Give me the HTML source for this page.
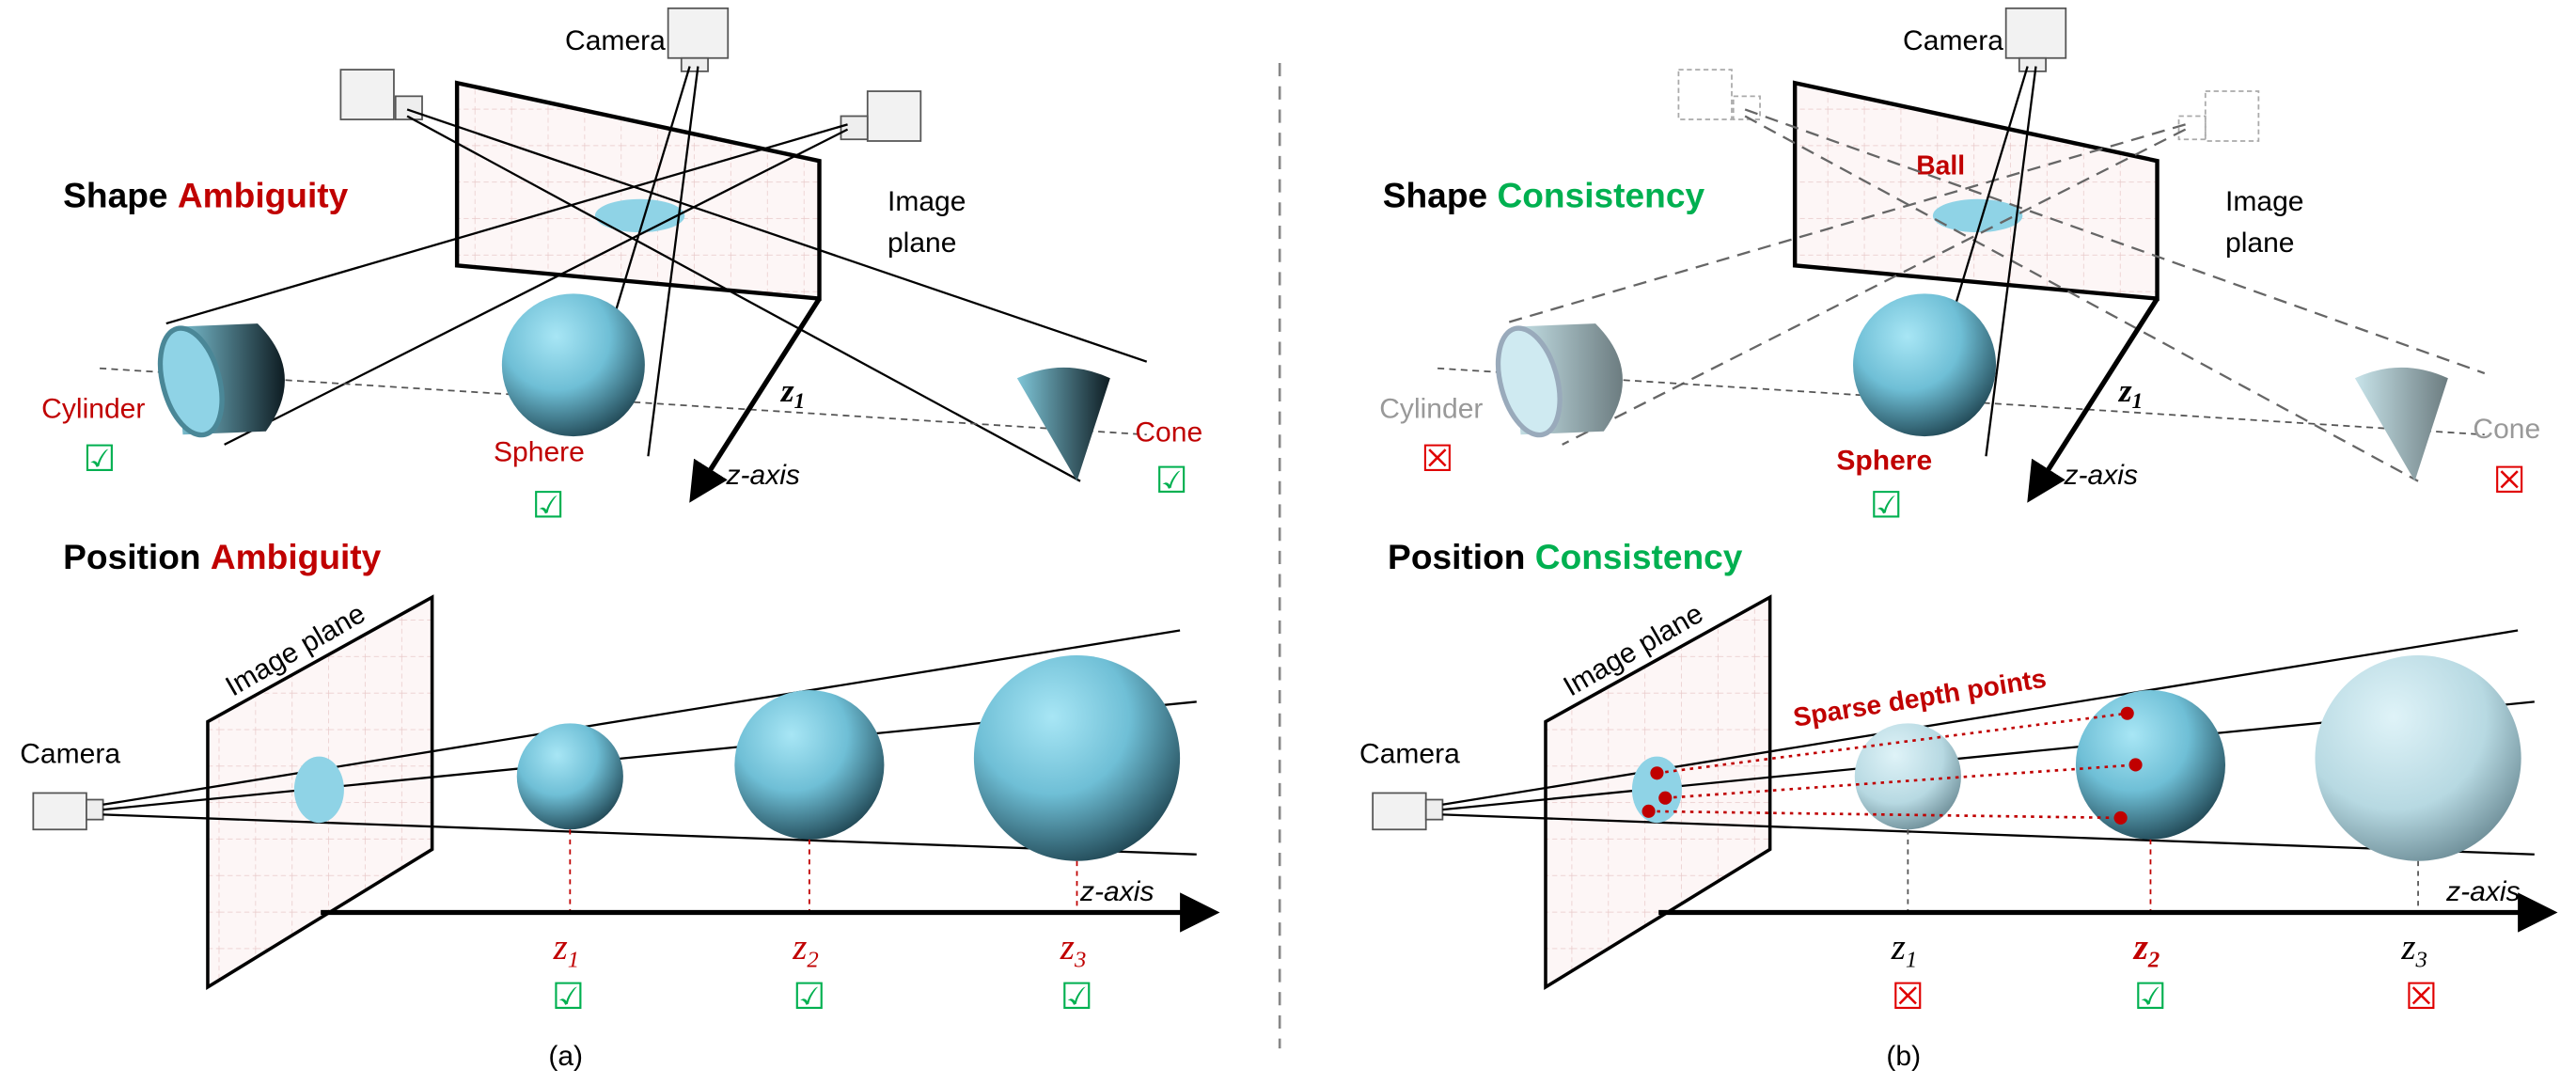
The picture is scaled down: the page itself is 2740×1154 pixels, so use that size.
<!DOCTYPE html>
<html><head><meta charset="utf-8"><style>html,body{margin:0;padding:0;background:#fff}svg{display:block}</style></head><body>
<svg width="2740" height="1154" viewBox="0 0 1550 654" preserveAspectRatio="none" xmlns="http://www.w3.org/2000/svg" font-family="Liberation Sans, sans-serif">
<defs>
<radialGradient id="sph" cx="0.38" cy="0.3" r="0.75"><stop offset="0" stop-color="#a8e6f5"/><stop offset="0.5" stop-color="#6fbfd6"/><stop offset="1" stop-color="#1f4552"/></radialGradient>
<radialGradient id="sphL" cx="0.38" cy="0.3" r="0.75"><stop offset="0" stop-color="#dff3f8"/><stop offset="0.6" stop-color="#b7d9e2"/><stop offset="1" stop-color="#6d8d97"/></radialGradient>
<linearGradient id="cyl" x1="0" x2="1"><stop offset="0" stop-color="#7fc6d8"/><stop offset="1" stop-color="#0e1c22"/></linearGradient>
<linearGradient id="cylL" x1="0" x2="1"><stop offset="0" stop-color="#c8e4ea"/><stop offset="1" stop-color="#6c7c80"/></linearGradient>
<marker id="ar" markerWidth="8" markerHeight="8" refX="6" refY="4" orient="auto"><path d="M0,0 L8,4 L0,8 z" fill="#000"/></marker>
<pattern id="grid" width="22" height="22" patternUnits="userSpaceOnUse"><rect width="22" height="22" fill="#fdf6f6"/><path d="M22 0V22M0 22H22" stroke="#e8c8c8" stroke-width="0.8" stroke-dasharray="3 2"/></pattern>
</defs>

<!-- divider -->
<line x1="770" y1="38" x2="770" y2="632" stroke="#888" stroke-width="1.5" stroke-dasharray="8 6"/>

<!-- ===== Panel A top ===== -->
<g>
<text x="38" y="125" font-size="21" font-weight="bold">Shape <tspan fill="#c00000">Ambiguity</tspan></text>
<text x="340" y="30" font-size="17">Camera</text>
<rect x="402" y="5" width="36" height="30" fill="#f2f2f2" stroke="#555"/>
<rect x="410" y="35" width="16" height="8" fill="#eee" stroke="#555"/>
<rect x="205" y="42" width="32" height="30" fill="#f2f2f2" stroke="#555"/>
<rect x="238" y="58" width="16" height="14" fill="#eee" stroke="#555"/>
<rect x="522" y="55" width="32" height="30" fill="#f2f2f2" stroke="#555"/>
<rect x="506" y="70" width="16" height="14" fill="#eee" stroke="#555"/>
<polygon points="275,50 493,97 493,180 275,160" fill="url(#grid)" stroke="#000" stroke-width="2.5"/>
<ellipse cx="385" cy="130" rx="27" ry="10" fill="#8fd3e6"/>
<text x="534" y="127" font-size="17">Image</text><text x="534" y="152" font-size="17">plane</text>
<line x1="245" y1="66" x2="690" y2="218" stroke="#000" stroke-width="1.3"/>
<line x1="245" y1="70" x2="650" y2="290" stroke="#000" stroke-width="1.3"/>
<line x1="510" y1="75" x2="100" y2="195" stroke="#000" stroke-width="1.3"/>
<line x1="510" y1="78" x2="135" y2="268" stroke="#000" stroke-width="1.3"/>
<line x1="415" y1="40" x2="348" y2="262" stroke="#000" stroke-width="1.3"/>
<line x1="420" y1="40" x2="390" y2="275" stroke="#000" stroke-width="1.3"/>
<line x1="60" y1="222" x2="690" y2="262" stroke="#555" stroke-dasharray="4 3"/>
<path d="M105,197 L155,195 Q185,225 160,260 L110,262 Z" fill="url(#cyl)"/>
<ellipse cx="115" cy="230" rx="17" ry="33" transform="rotate(-15 115 230)" fill="#8fd3e6" stroke="#4a8797" stroke-width="3"/>
<circle cx="345" cy="220" r="43" fill="url(#sph)"/>
<path d="M612,228 Q640,215 668,228 L648,290 Z" fill="url(#cyl)"/>
<line x1="493" y1="180" x2="418" y2="298" stroke="#000" stroke-width="3" marker-end="url(#ar)"/>
<text x="470" y="242" font-size="20" font-style="italic" font-family="Liberation Serif, serif" font-weight="bold">z<tspan font-size="13" dy="4">1</tspan></text>
<text x="437" y="292" font-size="17" font-style="italic">z-axis</text>
<text x="25" y="252" font-size="17" fill="#c00000">Cylinder</text>
<text x="297" y="278" font-size="17" fill="#c00000">Sphere</text>
<text x="683" y="266" font-size="17" fill="#c00000">Cone</text>
<text x="50" y="284" font-size="22" fill="#00b050">☑</text>
<text x="320" y="312" font-size="22" fill="#00b050">☑</text>
<text x="695" y="297" font-size="22" fill="#00b050">☑</text>
</g>

<!-- ===== Panel A bottom ===== -->
<g>
<text x="38" y="343" font-size="21" font-weight="bold">Position <tspan fill="#c00000">Ambiguity</tspan></text>
<polygon points="125,435 260,360 260,512 125,595" fill="url(#grid)" stroke="#000" stroke-width="2"/>
<text x="140" y="420" font-size="17" transform="rotate(-30 140 420)">Image plane</text>
<text x="12" y="460" font-size="17">Camera</text>
<rect x="20" y="478" width="32" height="22" fill="#f2f2f2" stroke="#555"/>
<rect x="52" y="482" width="10" height="12" fill="#eee" stroke="#555"/>
<line x1="62" y1="485" x2="710" y2="380" stroke="#000" stroke-width="1.3"/>
<line x1="62" y1="488" x2="720" y2="423" stroke="#000" stroke-width="1.3"/>
<line x1="62" y1="491" x2="720" y2="515" stroke="#000" stroke-width="1.3"/>
<ellipse cx="192" cy="476" rx="15" ry="20" fill="#8fd3e6"/>
<circle cx="343" cy="468" r="32" fill="url(#sph)"/>
<circle cx="487" cy="461" r="45" fill="url(#sph)"/>
<circle cx="648" cy="457" r="62" fill="url(#sph)"/>
<line x1="343" y1="500" x2="343" y2="550" stroke="#c00000" stroke-dasharray="3 3"/>
<line x1="487" y1="506" x2="487" y2="550" stroke="#c00000" stroke-dasharray="3 3"/>
<line x1="648" y1="519" x2="648" y2="550" stroke="#c00000" stroke-dasharray="3 3"/>
<line x1="193" y1="550" x2="728" y2="550" stroke="#000" stroke-width="3" marker-end="url(#ar)"/>
<text x="650" y="543" font-size="17" font-style="italic">z-axis</text>
<g font-family="Liberation Serif, serif" font-style="italic" font-size="22" fill="#c00000">
<text x="333" y="578">z<tspan font-size="14" dy="5">1</tspan></text>
<text x="477" y="578">z<tspan font-size="14" dy="5">2</tspan></text>
<text x="638" y="578">z<tspan font-size="14" dy="5">3</tspan></text></g>
<text x="332" y="608" font-size="22" fill="#00b050">☑</text>
<text x="477" y="608" font-size="22" fill="#00b050">☑</text>
<text x="638" y="608" font-size="22" fill="#00b050">☑</text>
<text x="330" y="642" font-size="17">(a)</text>
</g>

<!-- ===== Panel B top ===== -->
<g>
<text x="832" y="125" font-size="21" font-weight="bold">Shape <tspan fill="#00b050">Consistency</tspan></text>
<text x="1145" y="30" font-size="17">Camera</text>
<rect x="1207" y="5" width="36" height="30" fill="#f2f2f2" stroke="#555"/>
<rect x="1215" y="35" width="16" height="8" fill="#eee" stroke="#555"/>
<rect x="1010" y="42" width="32" height="30" fill="none" stroke="#aaa" stroke-dasharray="3 2"/>
<rect x="1043" y="58" width="16" height="14" fill="none" stroke="#aaa" stroke-dasharray="3 2"/>
<rect x="1327" y="55" width="32" height="30" fill="none" stroke="#aaa" stroke-dasharray="3 2"/>
<rect x="1311" y="70" width="16" height="14" fill="none" stroke="#aaa" stroke-dasharray="3 2"/>
<polygon points="1080,50 1298,97 1298,180 1080,160" fill="url(#grid)" stroke="#000" stroke-width="2.5"/>
<ellipse cx="1190" cy="130" rx="27" ry="10" fill="#8fd3e6"/>
<text x="1153" y="105" font-size="16" font-weight="bold" fill="#c00000">Ball</text>
<text x="1339" y="127" font-size="17">Image</text><text x="1339" y="152" font-size="17">plane</text>
<g stroke="#666" stroke-width="1.3" stroke-dasharray="8 5">
<line x1="1050" y1="66" x2="1495" y2="225"/><line x1="1050" y1="70" x2="1455" y2="290"/>
<line x1="1315" y1="75" x2="905" y2="195"/><line x1="1315" y1="78" x2="940" y2="268"/></g>
<line x1="1220" y1="40" x2="1153" y2="262" stroke="#000" stroke-width="1.3"/>
<line x1="1225" y1="40" x2="1195" y2="275" stroke="#000" stroke-width="1.3"/>
<line x1="865" y1="222" x2="1495" y2="262" stroke="#555" stroke-dasharray="4 3"/>
<path d="M910,197 L960,195 Q990,225 965,260 L915,262 Z" fill="url(#cylL)"/>
<ellipse cx="920" cy="230" rx="17" ry="33" transform="rotate(-15 920 230)" fill="#cfeaf1" stroke="#9ab" stroke-width="3"/>
<circle cx="1158" cy="220" r="43" fill="url(#sph)"/>
<path d="M1417,228 Q1445,215 1473,228 L1453,290 Z" fill="url(#cylL)"/>
<line x1="1298" y1="180" x2="1223" y2="298" stroke="#000" stroke-width="3" marker-end="url(#ar)"/>
<text x="1275" y="242" font-size="20" font-style="italic" font-family="Liberation Serif, serif" font-weight="bold">z<tspan font-size="13" dy="4">1</tspan></text>
<text x="1242" y="292" font-size="17" font-style="italic">z-axis</text>
<text x="830" y="252" font-size="17" fill="#999">Cylinder</text>
<text x="1105" y="283" font-size="17" font-weight="bold" fill="#c00000">Sphere</text>
<text x="1488" y="264" font-size="17" fill="#999">Cone</text>
<text x="855" y="284" font-size="22" fill="#e00000">☒</text>
<text x="1125" y="312" font-size="22" fill="#00b050">☑</text>
<text x="1500" y="297" font-size="22" fill="#e00000">☒</text>
</g>

<!-- ===== Panel B bottom ===== -->
<g>
<text x="835" y="343" font-size="21" font-weight="bold">Position <tspan fill="#00b050">Consistency</tspan></text>
<polygon points="930,435 1065,360 1065,512 930,595" fill="url(#grid)" stroke="#000" stroke-width="2"/>
<text x="945" y="420" font-size="17" transform="rotate(-30 945 420)">Image plane</text>
<text x="818" y="460" font-size="17">Camera</text>
<rect x="826" y="478" width="32" height="22" fill="#f2f2f2" stroke="#555"/>
<rect x="858" y="482" width="10" height="12" fill="#eee" stroke="#555"/>
<line x1="868" y1="485" x2="1515" y2="380" stroke="#000" stroke-width="1.3"/>
<line x1="868" y1="488" x2="1525" y2="423" stroke="#000" stroke-width="1.3"/>
<line x1="868" y1="491" x2="1525" y2="515" stroke="#000" stroke-width="1.3"/>
<ellipse cx="997" cy="476" rx="15" ry="20" fill="#8fd3e6"/>
<circle cx="1148" cy="468" r="32" fill="url(#sphL)"/>
<circle cx="1294" cy="461" r="45" fill="url(#sph)"/>
<circle cx="1455" cy="457" r="62" fill="url(#sphL)"/>
<text x="1080" y="438" font-size="16" font-weight="bold" fill="#c00000" transform="rotate(-9 1080 438)">Sparse depth points</text>
<g stroke="#c00000" stroke-width="1.5" stroke-dasharray="2 3">
<line x1="997" y1="466" x2="1280" y2="430"/><line x1="1002" y1="481" x2="1285" y2="461"/><line x1="992" y1="489" x2="1276" y2="493"/></g>
<g fill="#c00000"><circle cx="997" cy="466" r="4"/><circle cx="1002" cy="481" r="4"/><circle cx="992" cy="489" r="4"/>
<circle cx="1280" cy="430" r="4"/><circle cx="1285" cy="461" r="4"/><circle cx="1276" cy="493" r="4"/></g>
<line x1="1148" y1="500" x2="1148" y2="550" stroke="#555" stroke-dasharray="3 3"/>
<line x1="1294" y1="506" x2="1294" y2="550" stroke="#c00000" stroke-dasharray="3 3"/>
<line x1="1455" y1="519" x2="1455" y2="550" stroke="#555" stroke-dasharray="3 3"/>
<line x1="998" y1="550" x2="1533" y2="550" stroke="#000" stroke-width="3" marker-end="url(#ar)"/>
<text x="1472" y="543" font-size="17" font-style="italic">z-axis</text>
<g font-family="Liberation Serif, serif" font-style="italic" font-size="22">
<text x="1138" y="578">z<tspan font-size="14" dy="5">1</tspan></text>
<text x="1284" y="578" fill="#c00000" font-weight="bold">z<tspan font-size="14" dy="5">2</tspan></text>
<text x="1445" y="578">z<tspan font-size="14" dy="5">3</tspan></text></g>
<text x="1138" y="608" font-size="22" fill="#e00000">☒</text>
<text x="1284" y="608" font-size="22" fill="#00b050">☑</text>
<text x="1447" y="608" font-size="22" fill="#e00000">☒</text>
<text x="1135" y="642" font-size="17">(b)</text>
</g>
</svg>
</body></html>
